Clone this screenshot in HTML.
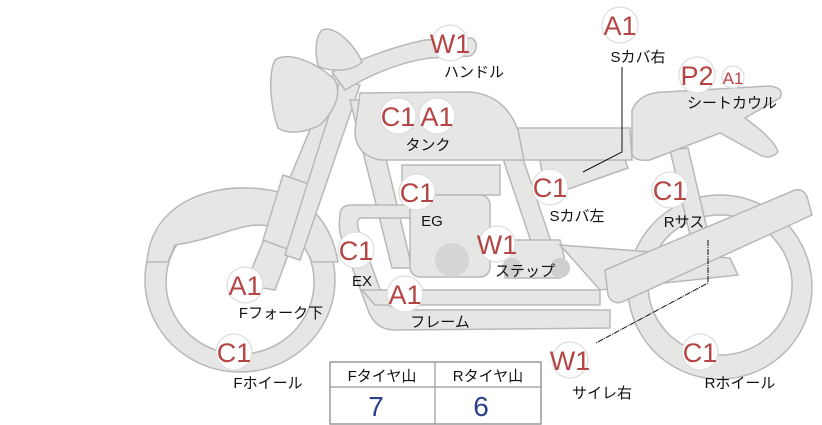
<!DOCTYPE html>
<html><head><meta charset="utf-8"><style>
html,body{margin:0;padding:0;background:#fff;}
svg{display:block;}
.p{fill:#e6e6e4;stroke:#b8b8b8;stroke-width:1.5;}
.b circle{fill:#fff;stroke:#ddd;stroke-width:1.2;}
.b text{fill:#b54545;font-family:"Liberation Sans",sans-serif;font-size:27px;text-anchor:middle;}
.l{font-family:"Liberation Sans","Noto Sans CJK JP",sans-serif;font-size:15px;fill:#111;text-anchor:middle;}
</style></head><body>
<svg width="822" height="425" viewBox="0 0 822 425" xmlns="http://www.w3.org/2000/svg">
<!-- rear wheel -->
<path class="p" fill-rule="evenodd" d="M720,195 a92,92 0 1,1 -0.1,0 Z M720,215 a72,70 0 1,0 0.1,0 Z"/>
<!-- front wheel -->
<path class="p" fill-rule="evenodd" d="M240,188 a95,92 0 1,1 -0.1,0 Z M240,210 a74,72 0 1,0 0.1,0 Z"/>
<path class="p" d="M147,262 C150,215 190,188 245,188 C300,188 330,215 338,262 L312,262 C300,235 285,225 255,225 C230,228 210,240 175,245 L168,262 Z"/>
<!-- fork -->
<path class="p" d="M335,70 L355,75 L275,290 L245,285 Z"/>
<path class="p" d="M283,175 L312,185 L290,250 L263,240 Z"/>
<path class="p" d="M340,80 L360,85 L300,260 L285,255 Z"/>
<!-- handlebar -->
<path class="p" d="M332,72 C370,55 400,45 425,40 L472,38 C478,42 478,52 470,56 L430,58 C400,62 370,75 345,90 Z"/>
<!-- headlight -->
<path class="p" d="M322,30 C335,25 355,45 362,62 C352,72 330,72 318,66 C315,52 315,38 322,30 Z"/>
<path class="p" d="M275,60 C290,50 320,65 335,80 C342,95 335,110 320,125 C300,135 285,133 278,128 C270,105 268,75 275,60 Z"/>
<!-- frame tubes -->
<path class="p" d="M350,100 L372,100 L412,268 L392,268 Z"/>
<path class="p" d="M500,150 L520,150 L560,268 L540,268 Z"/>
<!-- exhaust loops -->
<path class="p" d="M340,215 Q340,205 352,205 L420,205 L420,218 L362,218 Q356,218 358,228 L382,295 Q388,310 405,310 L610,310 L610,328 L395,330 Q375,330 368,310 L342,240 Q338,228 340,215 Z"/>
<path class="p" d="M362,290 L600,290 L600,305 L375,305 Z"/>
<!-- engine -->
<rect class="p" x="402" y="165" width="98" height="30"/>
<rect class="p" x="410" y="195" width="80" height="82" rx="10"/>
<circle cx="452" cy="260" r="17" fill="#d6d6d6"/>
<!-- step bar -->
<path class="p" d="M505,240 L560,240 Q570,275 560,278 L505,278 Z"/>
<circle cx="512" cy="268" r="10" fill="#cfcfcf"/>
<circle cx="560" cy="268" r="10" fill="#cfcfcf"/>
<!-- seat / side cover -->
<path class="p" d="M540,160 L625,160 L628,168 L560,192 L545,192 Z"/>
<path class="p" d="M512,128 L630,128 L632,160 L520,160 Q512,150 512,128 Z"/>
<!-- tank -->
<path class="p" d="M360,93 L470,92 Q505,95 518,130 L524,160 L380,160 Q355,155 355,130 Z"/>
<!-- rear sus -->
<path class="p" d="M670,150 L688,148 L712,250 L694,252 Z"/>
<!-- seat cowl -->
<path class="p" d="M632,110 Q640,92 665,92 L770,86 Q785,88 780,98 L745,118 Q775,140 778,152 Q770,160 760,155 L720,133 L650,160 Q630,162 632,150 Z"/>
<!-- swingarm / muffler -->
<path class="p" d="M560,245 L730,258 L738,275 L600,290 Z"/>
<path class="p" d="M605,270 L795,190 Q805,188 808,200 L812,215 L622,302 Q612,305 608,295 Z"/>
<!-- leader lines -->
<polyline points="622,67 622,152 583,172" fill="none" stroke="#111" stroke-width="1"/>
<polyline points="708,240 708,283 596,343" fill="none" stroke="#111" stroke-width="1" stroke-dasharray="6,1,1,1"/>
<!-- badges -->
<g class="b">
<circle cx="450" cy="43" r="18"/><text x="450" y="53">W1</text>
<circle cx="620" cy="25" r="18"/><text x="620" y="35">A1</text>
<circle cx="697" cy="75" r="18"/><text x="697" y="85">P2</text>
<circle cx="398" cy="116" r="18"/><text x="398" y="126">C1</text>
<circle cx="437" cy="116" r="18"/><text x="437" y="126">A1</text>
<circle cx="417" cy="192" r="18"/><text x="417" y="202">C1</text>
<circle cx="550" cy="187" r="18"/><text x="550" y="197">C1</text>
<circle cx="670" cy="190" r="18"/><text x="670" y="200">C1</text>
<circle cx="356" cy="250" r="18"/><text x="356" y="260">C1</text>
<circle cx="497" cy="244" r="18"/><text x="497" y="254">W1</text>
<circle cx="245" cy="285" r="18"/><text x="245" y="295">A1</text>
<circle cx="405" cy="294" r="18"/><text x="405" y="304">A1</text>
<circle cx="234" cy="352" r="18"/><text x="234" y="362">C1</text>
<circle cx="570" cy="360" r="18"/><text x="570" y="370">W1</text>
<circle cx="700" cy="352" r="18"/><text x="700" y="362">C1</text>
<circle cx="733" cy="77" r="11"/><text x="733" y="84" style="font-size:17px">A1</text>
</g>
<!-- labels -->
<g class="l">
<text x="474" y="77">ハンドル</text>
<text x="638" y="62">Sカバ右</text>
<text x="732" y="108">シートカウル</text>
<text x="428" y="150">タンク</text>
<text x="432" y="226">EG</text>
<text x="577" y="221">Sカバ左</text>
<text x="684" y="227">Rサス</text>
<text x="362" y="286">EX</text>
<text x="525" y="276">ステップ</text>
<text x="281" y="318">Fフォーク下</text>
<text x="440" y="327">フレーム</text>
<text x="268" y="388">Fホイール</text>
<text x="602" y="398">サイレ右</text>
<text x="740" y="388">Rホイール</text>
</g>
<!-- table -->
<rect x="330" y="362" width="211" height="62" fill="#fff" stroke="#999" stroke-width="1.5"/>
<line x1="330" y1="387" x2="541" y2="387" stroke="#999" stroke-width="1.2"/>
<line x1="435" y1="362" x2="435" y2="424" stroke="#999" stroke-width="1.2"/>
<text class="l" x="382" y="381">Fタイヤ山</text>
<text class="l" x="488" y="381">Rタイヤ山</text>
<text x="376" y="416" font-family="Liberation Sans,sans-serif" font-size="28" fill="#2b3f8a" text-anchor="middle">7</text>
<text x="481" y="416" font-family="Liberation Sans,sans-serif" font-size="28" fill="#2b3f8a" text-anchor="middle">6</text>
</svg>
</body></html>
